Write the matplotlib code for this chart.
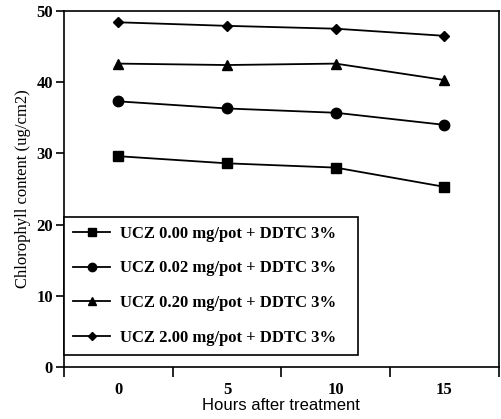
"""Chlorophyll content vs hours after treatment."""

import matplotlib

matplotlib.use("Agg")
import matplotlib.pyplot as plt  # noqa: E402
import numpy as np  # noqa: E402

hours = ["0", "5", "10", "15"]
ucz_000 = [29.6, 28.6, 28.0, 25.3]
ucz_002 = [37.3, 36.3, 35.7, 34.0]
ucz_020 = [42.6, 42.4, 42.6, 40.3]
ucz_200 = [48.4, 47.9, 47.5, 46.5]
labels = [
    "UCZ 0.00 mg/pot + DDTC 3%",
    "UCZ 0.02 mg/pot + DDTC 3%",
    "UCZ 0.20 mg/pot + DDTC 3%",
    "UCZ 2.00 mg/pot + DDTC 3%",
]

serif = ["Liberation Serif", "DejaVu Serif"]

fig = plt.figure(figsize=(5.02, 4.19), dpi=100)
ax = fig.add_axes([0.1275, 0.124, 0.866, 0.850])

xs = np.arange(len(hours))
series = [ucz_000, ucz_002, ucz_020, ucz_200]
markers = ["s", "o", "^", "D"]
sizes = [7, 7.5, 7, 5.5]
for ys, m, ms, lab in zip(series, markers, sizes, labels):
    ax.plot(xs, ys, color="black", marker=m, markersize=ms, linewidth=1.3, label=lab)

ax.set_xlim(-0.5, 3.5)
ax.set_ylim(0, 50)
ax.set_xticks(xs)
ax.set_xticklabels(hours)
ax.set_xticks(np.arange(-0.5, 4.0, 1.0), minor=True)
ax.tick_params(axis="x", which="major", length=0, pad=11)
ax.tick_params(axis="x", which="minor", length=7, width=1.2, direction="out")
ax.set_yticks([0, 10, 20, 30, 40, 50])
ax.tick_params(axis="y", length=6, width=1.2, direction="out", pad=2)
for lbl in ax.get_xticklabels() + ax.get_yticklabels():
    lbl.set_fontfamily(serif)
    lbl.set_fontweight("bold")
    lbl.set_fontsize(12)
for sp in ax.spines.values():
    sp.set_linewidth(1.2)

ax.set_xlabel("Hours after treatment", fontfamily="Liberation Sans", fontsize=12, labelpad=0)
ax.set_ylabel("Chlorophyll content (ug/cm2)", fontfamily=serif, fontsize=12, labelpad=4)

leg = ax.legend(
    loc="lower left",
    bbox_to_anchor=(0.0, 0.034, 0.676, 0.393),
    mode="expand",
    borderaxespad=0,
    fancybox=False,
    edgecolor="black",
    framealpha=1,
    markerscale=0.8,
    handlelength=2.2,
    handletextpad=0.6,
    labelspacing=1.12,
    borderpad=0.55,
    prop={"family": serif, "weight": "bold", "size": 12},
)
leg.get_frame().set_linewidth(1.2)

fig.savefig("out.png", dpi=100)
